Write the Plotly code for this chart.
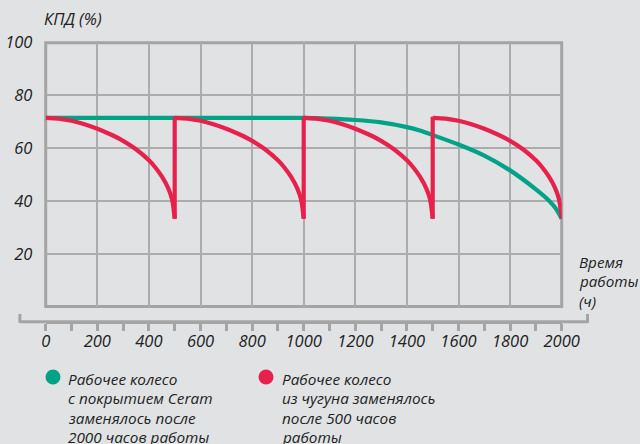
import plotly.graph_objects as go

# ---- data ----
ceram_hours = [0, 1000, 1100, 1200, 1300, 1400, 1450, 1500, 1600, 1700, 1800, 1900, 1950, 1975, 2000]
ceram_kpd = [71.5, 71.5, 71.2, 70.7, 69.8, 68.0, 66.7, 65.0, 61.4, 57.2, 51.6, 44.4, 40.2, 37.4, 33.3]

iron_hours = [0, 50, 100, 150, 200, 250, 300, 350, 400, 425, 450, 475, 490, 500,
              500, 550, 600, 650, 700, 750, 800, 850, 900, 925, 950, 975, 990, 1000,
              1000, 1050, 1100, 1150, 1200, 1250, 1300, 1350, 1400, 1425, 1450, 1475, 1490, 1500,
              1500, 1550, 1600, 1650, 1700, 1750, 1800, 1850, 1900, 1925, 1950, 1975, 1990, 2000]
iron_kpd = [71.5, 71.2, 70.4, 69.1, 67.4, 65.3, 62.8, 59.6, 55.4, 52.7, 49.3, 44.8, 40.5, 33.3,
            71.5, 71.2, 70.4, 69.1, 67.4, 65.3, 62.8, 59.6, 55.4, 52.7, 49.3, 44.8, 40.5, 33.3,
            71.5, 71.2, 70.4, 69.1, 67.4, 65.3, 62.8, 59.6, 55.4, 52.7, 49.3, 44.8, 40.5, 33.3,
            71.5, 71.2, 70.4, 69.1, 67.4, 65.3, 62.8, 59.6, 55.4, 52.7, 49.3, 44.8, 40.5, 33.3]

x_ticks = [0, 200, 400, 600, 800, 1000, 1200, 1400, 1600, 1800, 2000]
y_ticks = [20, 40, 60, 80, 100]

y_title = "КПД (%)"
x_title_lines = ["Время", "работы", "(ч)"]
legend_ceram_lines = ["Рабочее колесо", "с покрытием Ceram", "заменялось после", "2000 часов работы"]
legend_iron_lines = ["Рабочее колесо", "из чугуна заменялось", "после 500 часов", "работы"]

# ---- style ----
W, H = 640, 444
BG = "#e1e2e4"
TEAL = "#00a386"
RED = "#e6214b"
GRID = "#acacac"
FRAME = "#a4a4a4"
TXT = "#222222"
FONT = "Open Sans"
LW = 4.2


def px(x):
    return x / W


def py(y):
    return 1 - y / H


fig = go.Figure()
fig.add_trace(go.Scatter(x=ceram_hours, y=ceram_kpd, mode="lines",
                         line=dict(color=TEAL, width=LW, shape="spline", smoothing=0.8),
                         showlegend=False, hoverinfo="skip"))

# split the cast-iron series into its replacement cycles (where the hour repeats)
segments = []
start = 0
for i in range(1, len(iron_hours)):
    if iron_hours[i] == iron_hours[i - 1]:
        segments.append((start, i))
        start = i
segments.append((start, len(iron_hours)))

for a, b in segments:
    fig.add_trace(go.Scatter(x=iron_hours[a:b], y=iron_kpd[a:b], mode="lines",
                             line=dict(color=RED, width=LW, shape="spline", smoothing=0.8),
                             showlegend=False, hoverinfo="skip"))
# vertical jumps at each replacement
for (a1, b1), (a2, b2) in zip(segments[:-1], segments[1:]):
    fig.add_trace(go.Scatter(x=[iron_hours[b1 - 1], iron_hours[a2]],
                             y=[iron_kpd[b1 - 1], iron_kpd[a2] + 0.4], mode="lines",
                             line=dict(color=RED, width=LW), showlegend=False, hoverinfo="skip"))

fig.update_layout(
    width=W, height=H,
    margin=dict(l=0, r=0, t=0, b=0, autoexpand=False),
    paper_bgcolor=BG, plot_bgcolor=BG,
    font=dict(family=FONT, color=TXT, size=16),
    xaxis=dict(domain=[px(45.7), px(561.7)], range=[0, 2000],
               anchor="free", position=py(321.7),
               tickvals=x_ticks, ticks="outside", ticklen=7, tickwidth=3, tickcolor=FRAME,
               ticklabelstandoff=-4,
               minor=dict(dtick=100, tick0=0, ticks="outside", ticklen=7, tickwidth=3,
                          tickcolor=FRAME, showgrid=False),
               tickfont=dict(family=FONT, size=16.5, color=TXT, style="italic"),
               showgrid=True, gridcolor=GRID, gridwidth=1.5,
               showline=True, linecolor=FRAME, linewidth=3,
               zeroline=False, automargin=False, fixedrange=True),
    yaxis=dict(domain=[py(306.5), py(42.7)], range=[0, 100],
               tickvals=y_ticks, ticks="outside", ticklen=9, tickcolor="rgba(0,0,0,0)",
               tickfont=dict(family=FONT, size=16.5, color=TXT, style="italic"),
               showgrid=True, gridcolor=GRID, gridwidth=1.5,
               showline=False, zeroline=False, automargin=False, fixedrange=True),
    showlegend=False,
)

# plot frame
fig.add_shape(type="rect", xref="x domain", yref="y domain", x0=0, x1=1, y0=0, y1=1,
              line=dict(color=FRAME, width=3), layer="below")
# extended time-axis line with end caps
fig.add_shape(type="line", xref="paper", yref="paper", x0=px(19.9), x1=px(587.5),
              y0=py(321.7), y1=py(321.7), line=dict(color=FRAME, width=3))
for xe in (19.9, 587.5):
    fig.add_shape(type="line", xref="paper", yref="paper", x0=px(xe), x1=px(xe),
                  y0=py(323), y1=py(314), line=dict(color=FRAME, width=3))


def text(s, x, y, size):
    fig.add_annotation(text=s, xref="paper", yref="paper", x=px(x), y=py(y),
                       xanchor="left", yanchor="middle", align="left", showarrow=False,
                       borderpad=0,
                       font=dict(family=FONT, size=size, color=TXT, style="italic"))


text(y_title, 43, 18, 16.5)
for i, s in enumerate(x_title_lines):
    text(s, 578, 262 + i * 19.3, 15.2)

# legend
for cx, tx, col, lines in ((53, 67, TEAL, legend_ceram_lines), (266, 281, RED, legend_iron_lines)):
    fig.add_shape(type="circle", xref="paper", yref="paper",
                  x0=px(cx - 7.5), x1=px(cx + 7.5), y0=py(377 + 7.5), y1=py(377 - 7.5),
                  fillcolor=col, line=dict(width=0))
    for i, s in enumerate(lines):
        text(s, tx, 379 + i * 19.3, 15.3)

fig.write_html("out.html", config={"displayModeBar": False},
               post_script="document.body.style.margin='0px';")
